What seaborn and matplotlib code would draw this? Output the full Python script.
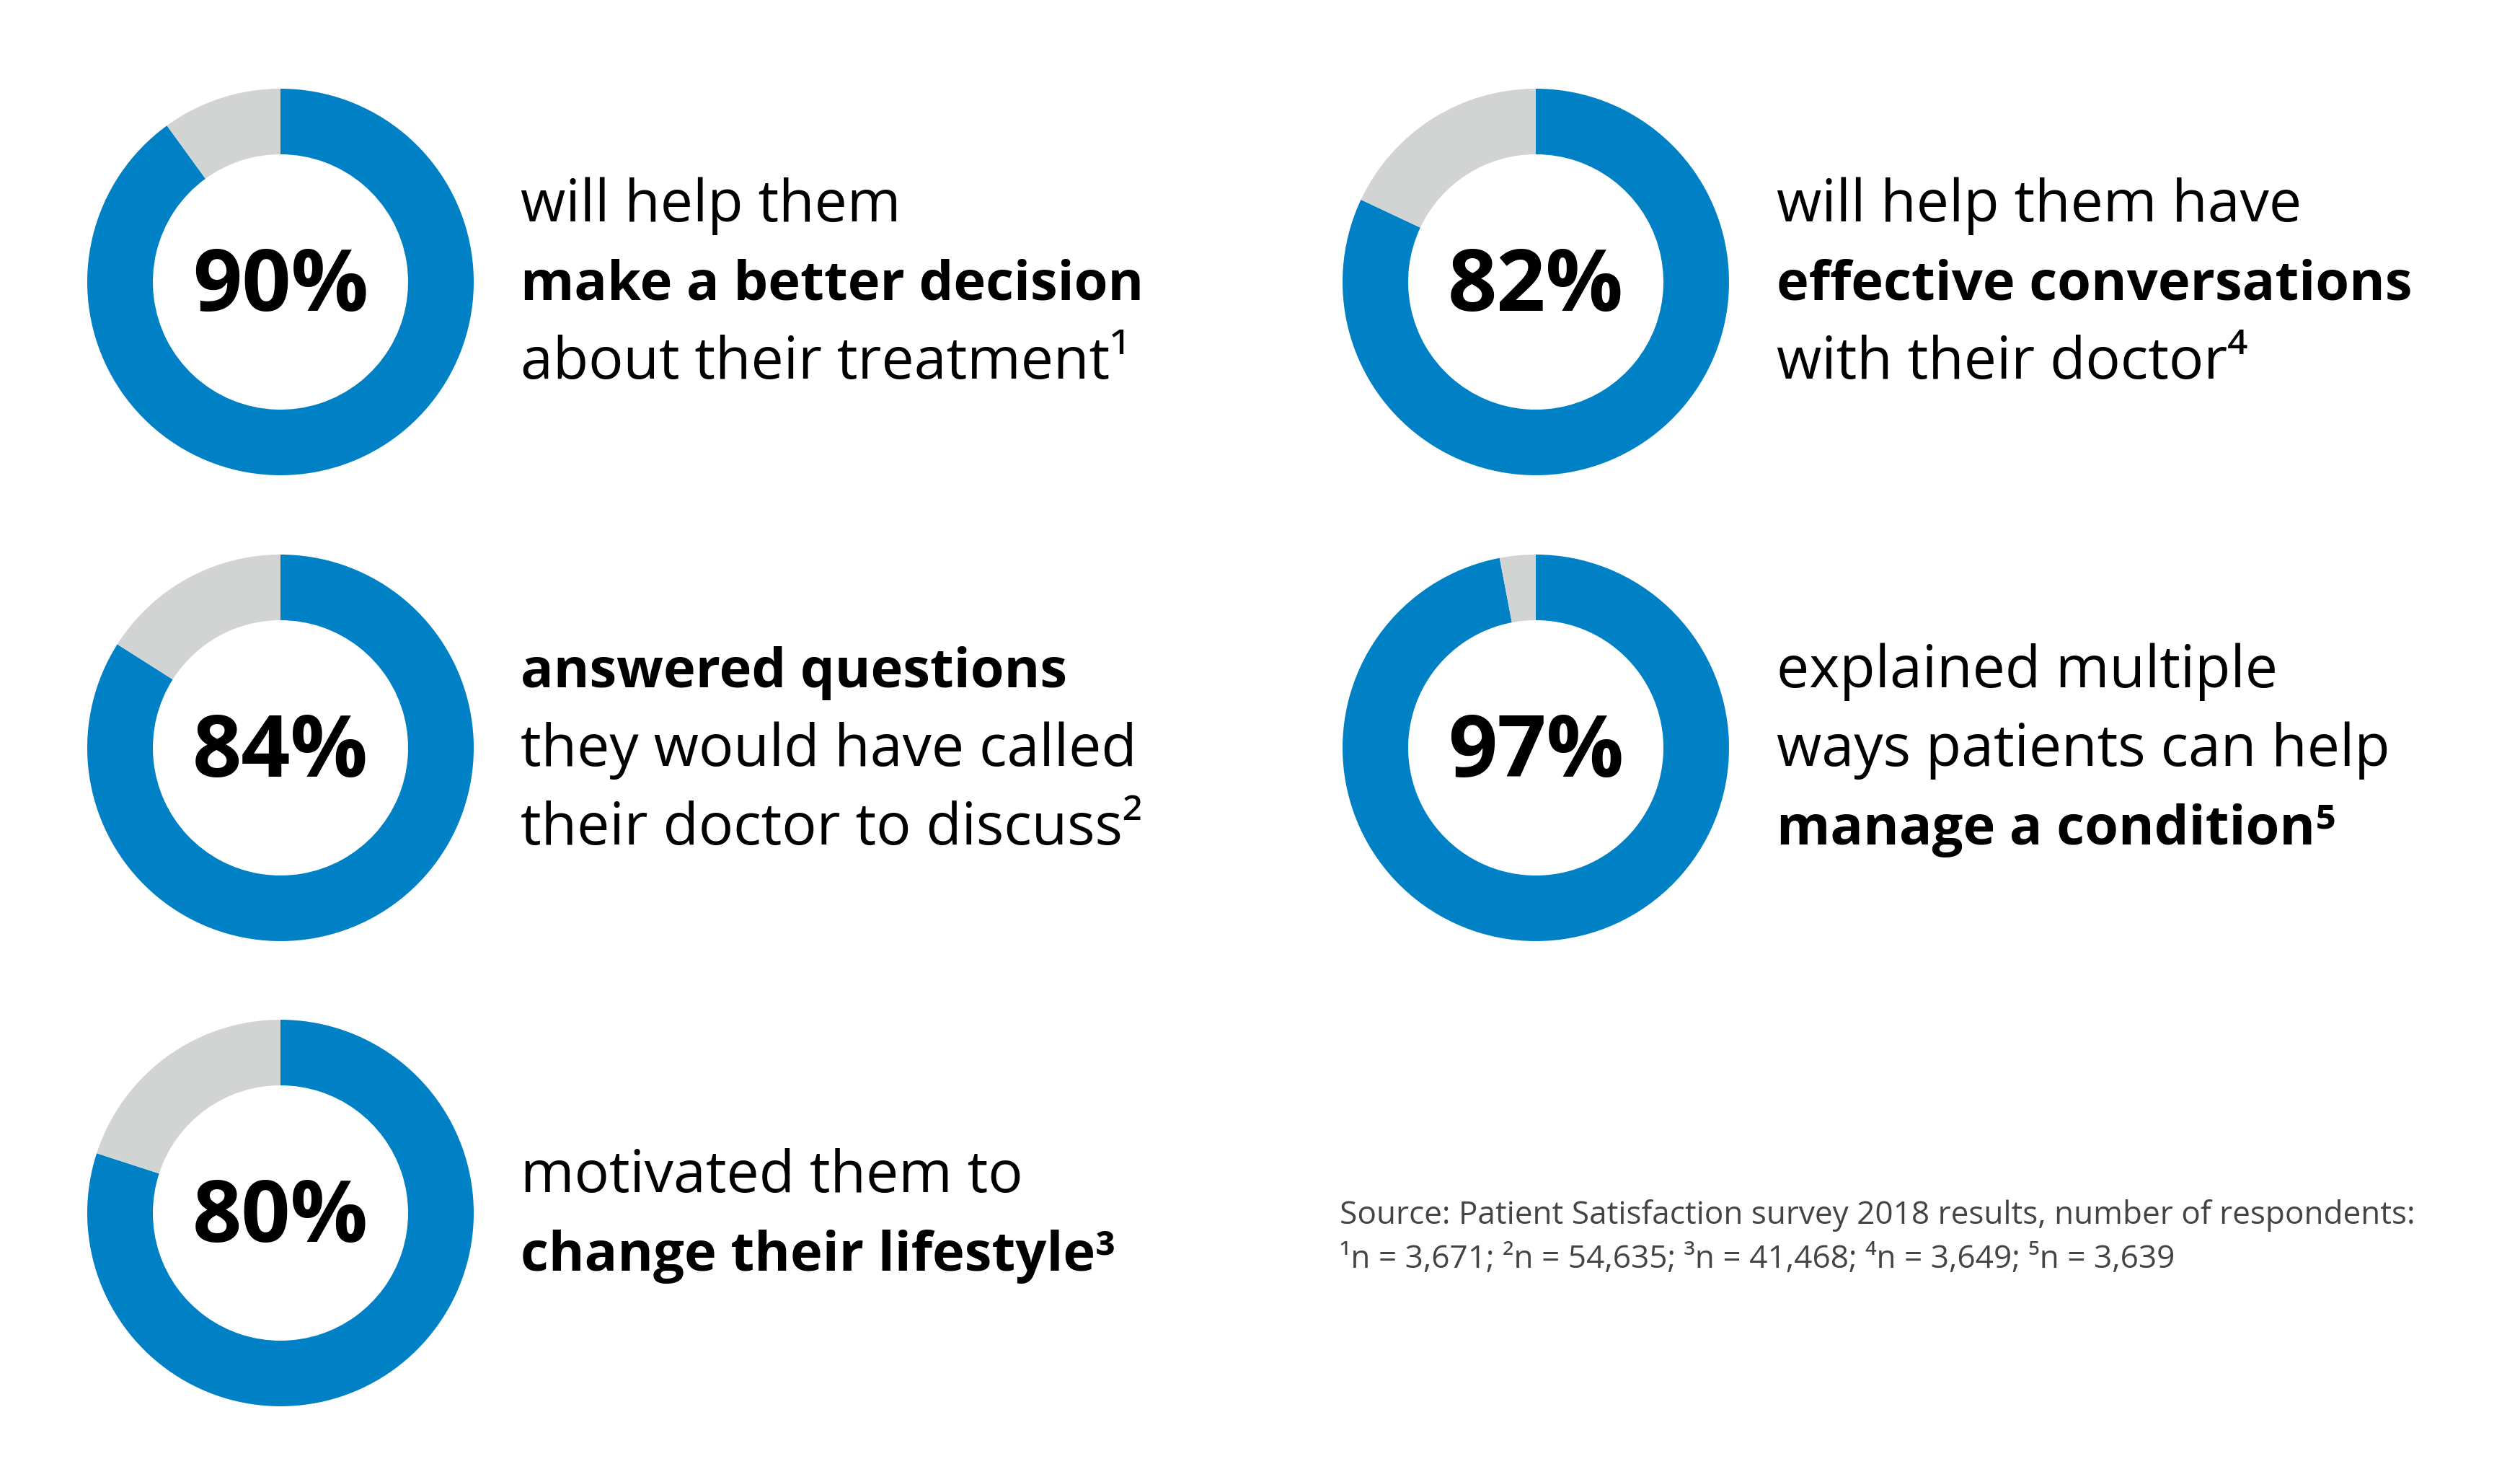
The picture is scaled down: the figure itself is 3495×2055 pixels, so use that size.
import matplotlib
matplotlib.use("Agg")
import matplotlib.pyplot as plt
import seaborn as sns

# ---- data ----
percentages = [90, 82, 84, 97, 80]
pct_labels = ["90%", "82%", "84%", "97%", "80%"]
text_lines = [
    ["will help them", "make a better decision", "about their treatment¹"],
    ["will help them have", "effective conversations", "with their doctor⁴"],
    ["answered questions", "they would have called", "their doctor to discuss²"],
    ["explained multiple", "ways patients can help", "manage a condition⁵"],
    ["motivated them to", "change their lifestyle³"],
]
text_bold = [
    [False, True, False],
    [False, True, False],
    [True, False, False],
    [False, False, True],
    [False, True],
]
source_lines = [
    "Source: Patient Satisfaction survey 2018 results, number of respondents:",
    "¹n = 3,671; ²n = 54,635; ³n = 41,468; ⁴n = 3,649; ⁵n = 3,639",
]

# ---- style ----
sns.set_theme(style="white")
FONT = ["Open Sans", "Noto Sans", "DejaVu Sans"]
plt.rcParams["font.family"] = FONT
BLUE = "#0081C6"
GREY = "#D2D4D4"

W, H = 3495, 2055
fig = plt.figure(figsize=(W / 100, H / 100), dpi=100)
fig.patch.set_facecolor("white")
ax = fig.add_axes([0, 0, 1, 1])

# layout (pixel positions, y from top)
centers = [(389, 391), (2130, 391), (389, 1037), (2130, 1037), (389, 1682)]
text_x = [722, 2464, 722, 2464, 722]
R_OUT, R_IN = 268, 177
LINE_H = 109

for i, p in enumerate(percentages):
    cx, cy = centers[i]
    ax.pie([p, 100 - p], colors=[BLUE, GREY], startangle=90, counterclock=False,
           center=(cx, H - cy), radius=R_OUT,
           wedgeprops=dict(width=R_OUT - R_IN, linewidth=0), frame=True)
    ax.text(cx, H - (cy + 40), pct_labels[i], ha="center", va="baseline",
            fontsize=86, fontweight="bold", color="black")
    n = len(text_lines[i])
    for j, (line, bold) in enumerate(zip(text_lines[i], text_bold[i])):
        y = cy + 25 + (j - (n - 1) / 2) * LINE_H
        ax.text(text_x[i], H - y, line, ha="left", va="baseline",
                fontsize=54.5 if bold else 58,
                fontweight="bold" if bold else "normal",
                color="black")

for k, line in enumerate(source_lines):
    ax.text(1858, H - (1697 + k * 61), line, ha="left", va="baseline",
            fontsize=31.8, color="#444444")

ax.set_xlim(0, W)
ax.set_ylim(0, H)
ax.set_aspect("equal")
ax.axis("off")

fig.savefig("out.png", dpi=100, facecolor="white")
